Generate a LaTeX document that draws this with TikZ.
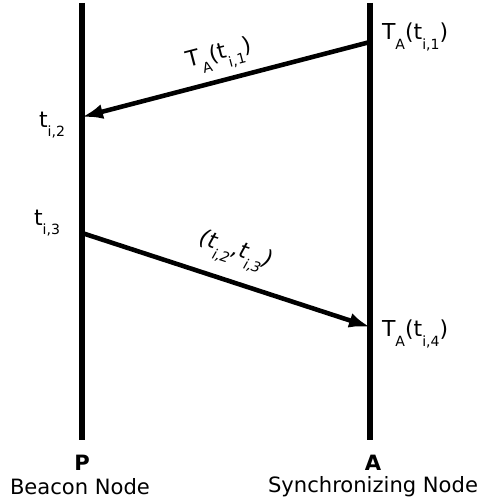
\documentclass[tikz,border=0pt]{standalone}
\usepackage{fontspec}
\setmainfont{DejaVu Sans}
\usetikzlibrary{arrows.meta}
\newcommand{\lo}[1]{\raisebox{-0.8ex}{\fontsize{8}{8}\selectfont #1}}

\begin{document}
\begin{tikzpicture}[x=0.02cm,y=0.02cm,line width=2.6pt,>={Latex[length=4.2mm,width=3mm]},
  lbl/.style={font=\fontsize{12.5}{14}\selectfont,inner sep=1pt}]
  \useasboundingbox (0,0) rectangle (487,504);
  % node P: beacon, A: synchronizing
  \coordinate (ptop) at (82,501); \coordinate (pbot) at (82,64);
  \coordinate (atop) at (370,501); \coordinate (abot) at (370,64);
  \draw[line width=3.2pt] (ptop)--(pbot);
  \draw[line width=3.2pt] (atop)--(abot);
  \node[lbl,font=\fontsize{12}{14}\selectfont\bfseries] (pname) at (82,41) {P};
  \node[lbl,font=\fontsize{12}{14}\selectfont] (pdesc) at (80,17) {Beacon Node};
  \node[lbl,font=\fontsize{12}{14}\selectfont\bfseries] (aname) at (373,41) {A};
  \node[lbl,font=\fontsize{12}{14}\selectfont] (adesc) at (373,17) {Synchronizing Node};
  % first message A -> P
  \coordinate (ti1) at (370,462); \coordinate (ti2) at (82,387);
  \draw[->] (ti1)--(ti2) node[lbl,midway,sloped,above=3pt] (m1) {T\lo{A}(t\lo{i,1})};
  \node[lbl,anchor=west] (ta1) at (378,467) {T\lo{A}(t\lo{i,1})};
  \node[lbl,anchor=east] (t2) at (69,379) {t\lo{i,2}};
  % second message P -> A
  \coordinate (ti3) at (82,271); \coordinate (ti4) at (370,177);
  \node[lbl,anchor=east] (t3) at (64,281) {t\lo{i,3}};
  \draw[->] (ti3)--(ti4) node[lbl,midway,sloped,above=6pt,font=\fontsize{12.5}{14}\selectfont\itshape] (m2) {(t\lo{i,2},t\lo{i,3})};
  \node[lbl,anchor=west] (ta4) at (378,170) {T\lo{A}(t\lo{i,4})};
\end{tikzpicture}
\end{document}
